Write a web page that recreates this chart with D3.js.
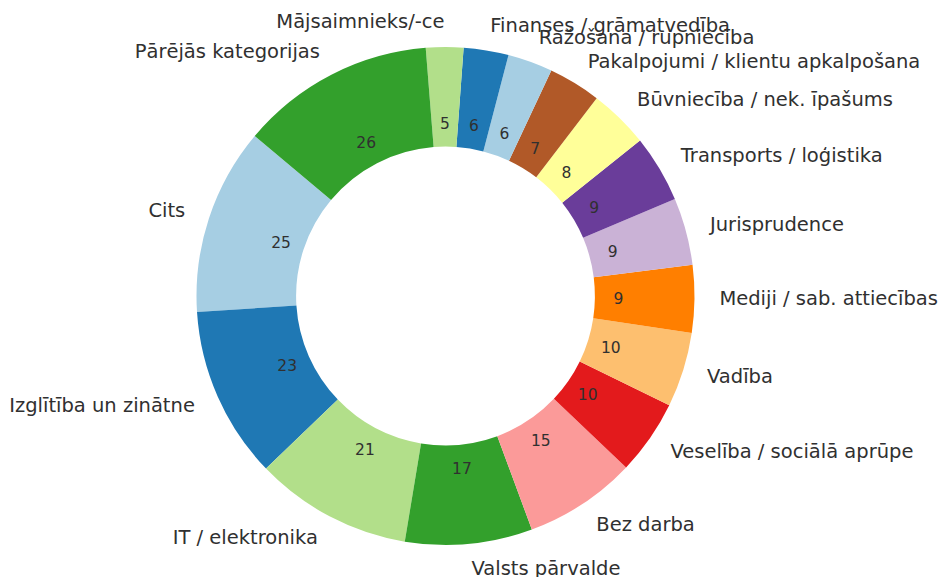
<!DOCTYPE html>
<html>
<head>
<meta charset="utf-8">
<script src="https://cdn.jsdelivr.net/npm/d3@7"></script>
<style>
  body { margin: 0; background: #fff; }
  svg text { font-family: "DejaVu Sans", sans-serif; fill: #303030; }
</style>
</head>
<body>
<div id="chart"></div>
<script>
// Categories in the order they were plotted (matplotlib, counter-clockwise)
const categories = [
  'Cits', 'Izglītība un zinātne', 'IT / elektronika', 'Valsts pārvalde',
  'Bez darba', 'Veselība / sociālā aprūpe', 'Vadība', 'Mediji / sab. attiecības',
  'Jurisprudence', 'Transports / loģistika', 'Būvniecība / nek. īpašums',
  'Pakalpojumi / klientu apkalpošana', 'Ražošana / rupniecība',
  'Finanses / grāmatvedība', 'Mājsaimnieks/-ce', 'Pārējās kategorijas'
];
const counts = [25, 23, 21, 17, 15, 10, 10, 9, 9, 9, 8, 7, 6, 6, 5, 26];

// matplotlib "Paired" palette
const paired = ['#a6cee3', '#1f78b4', '#b2df8a', '#33a02c', '#fb9a99', '#e31a1c',
                '#fdbf6f', '#ff7f00', '#cab2d6', '#6a3d9a', '#ffff99', '#b15928'];

const width = 940, height = 577;
const cx = 445.5, cy = 296,
      radius = 249;

const svg = d3.select('#chart').append('svg')
    .attr('width', width)
    .attr('height', height);

const g = svg.append('g')
    .attr('transform', 'translate(' + cx + ',' + cy + ')');

// startangle=140 (math), counter-clockwise -> d3 angles
const start = (90 - 140) * Math.PI / 180;
const pie = d3.pie()
    .sort(null)
    .value(d => d.value)
    .startAngle(start)
    .endAngle(start - 2 * Math.PI);

const data = categories.map((c, i) => ({name: c, value: counts[i]}));
const arcs = pie(data);

const arc = d3.arc()
    .innerRadius(radius * 0.6)
    .outerRadius(radius);

g.selectAll('path')
    .data(arcs)
  .enter().append('path')
    .attr('d', arc)
    .style('fill', (d, i) => paired[i % paired.length]);

const mid = d => (d.startAngle + d.endAngle) / 2;

// values inside the ring
g.selectAll('.pct')
    .data(arcs)
  .enter().append('text')
    .attr('class', 'pct')
    .attr('x', d => radius * 0.695 * Math.sin(mid(d)))
    .attr('y', d => -radius * 0.695 * Math.cos(mid(d)))
    .attr('dy', '0.36em')
    .attr('text-anchor', 'middle')
    .style('font-size', '15.5px')
    .text(d => d.value);

// category labels outside
g.selectAll('.lbl')
    .data(arcs)
  .enter().append('text')
    .attr('class', 'lbl')
    .attr('x', d => radius * 1.1 * Math.sin(mid(d)))
    .attr('y', d => -radius * 1.1 * Math.cos(mid(d)))
    .attr('dy', '0.3em')
    .attr('text-anchor', d => Math.sin(mid(d)) > 0 ? 'start' : 'end')
    .style('font-size', '19.5px')
    .text(d => d.data.name);
</script>
</body>
</html>
